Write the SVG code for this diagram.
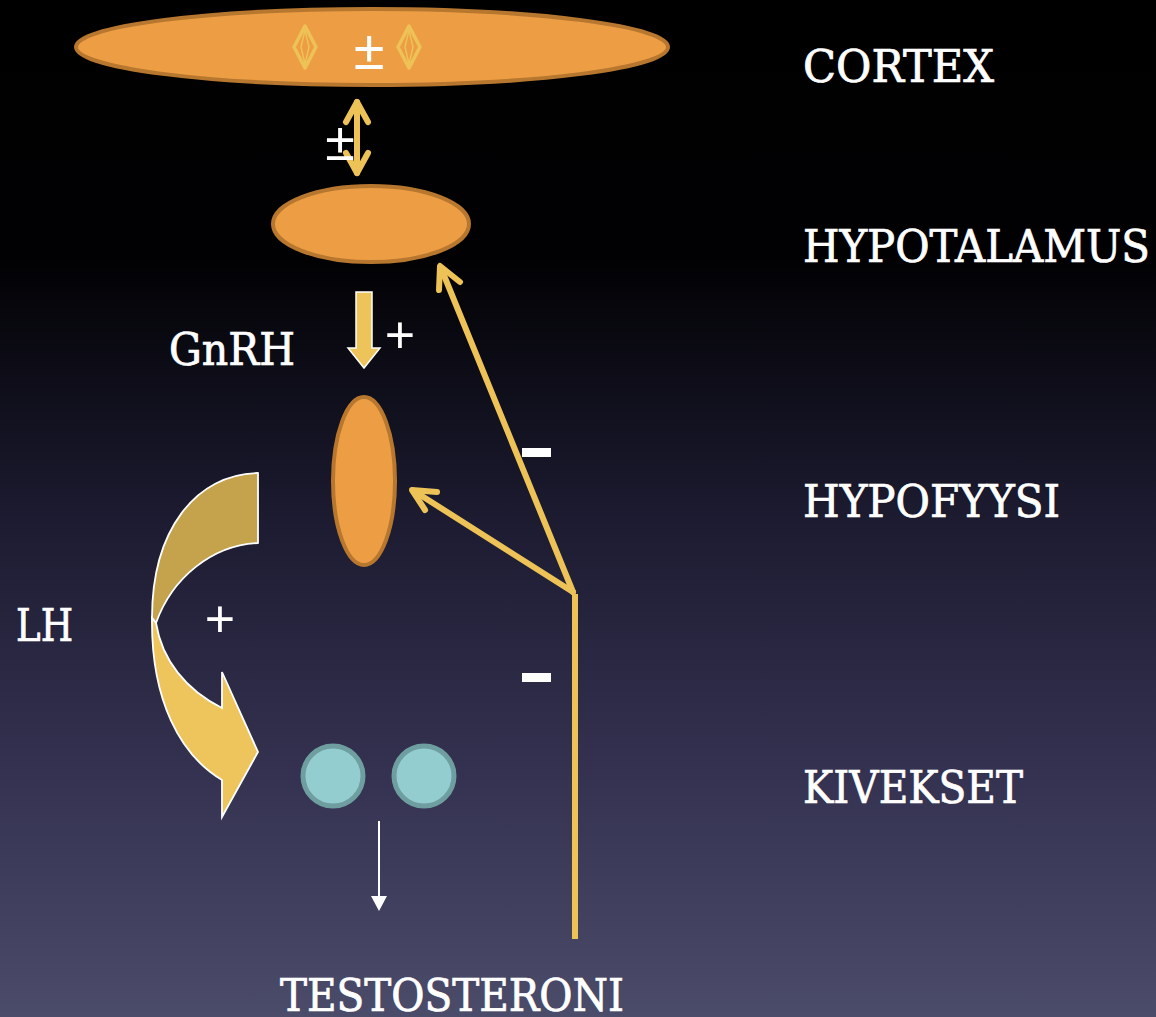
<svg xmlns="http://www.w3.org/2000/svg" width="1156" height="1017" viewBox="0 0 1156 1017">
<defs>
<linearGradient id="bg" x1="0" y1="0" x2="0" y2="1">
<stop offset="0" stop-color="#000000"/>
<stop offset="0.25" stop-color="#010103"/>
<stop offset="0.5" stop-color="#1b1a2f"/>
<stop offset="0.75" stop-color="#33314f"/>
<stop offset="1" stop-color="#4b4b6a"/>
</linearGradient>
<style>
.lbl{font-family:"DejaVu Serif Condensed","DejaVu Serif",serif;font-stretch:condensed;font-size:44px;fill:#ffffff;stroke:#ffffff;stroke-width:0.7}
.sign{font-family:"Liberation Sans",Arial,sans-serif;fill:#ffffff;text-anchor:middle}
.organ{fill:#ED9E45;stroke:#B8772F;stroke-width:4}
.testis{fill:#93CDD0;stroke:#6E9EA0;stroke-width:5}
.fb{fill:none;stroke:#EDC257;stroke-width:6;stroke-linecap:round;stroke-linejoin:round}
.minus{fill:#ffffff}
</style>
</defs>
<rect x="0" y="0" width="1156" height="1017" fill="url(#bg)"/>

<g id="cortex">
<ellipse class="organ" cx="372" cy="47" rx="296" ry="38"/>
<g fill="none" stroke="#EDC257" stroke-linejoin="round">
<path d="M305,26 L316,47 L305,68 L294,47 Z" stroke-width="3.5"/>
<path d="M305,30 L309,47 L305,64 L301,47 Z" stroke-width="1.5"/>
<path d="M409,26 L420,47 L409,68 L398,47 Z" stroke-width="3.5"/>
<path d="M409,30 L413,47 L409,64 L405,47 Z" stroke-width="1.5"/>
</g>
<text class="sign" x="369" y="69" font-size="56">±</text>
</g>

<g id="hypothalamus">
<ellipse class="organ" cx="371" cy="224" rx="98" ry="38"/>
</g>

<g id="pituitary">
<ellipse class="organ" cx="364" cy="481" rx="31" ry="84"/>
</g>

<g id="testes">
<circle class="testis" cx="333" cy="776" r="30"/>
<circle class="testis" cx="424" cy="776" r="30"/>
</g>

<g id="labels">
<text class="lbl" x="803" y="82" textLength="191" lengthAdjust="spacingAndGlyphs">CORTEX</text>
<text class="lbl" x="803" y="262" textLength="347" lengthAdjust="spacingAndGlyphs">HYPOTALAMUS</text>
<text class="lbl" x="803" y="517" textLength="257" lengthAdjust="spacingAndGlyphs">HYPOFYYSI</text>
<text class="lbl" x="803" y="803" textLength="220" lengthAdjust="spacingAndGlyphs">KIVEKSET</text>
<text class="lbl" x="169" y="365" textLength="126" lengthAdjust="spacingAndGlyphs">GnRH</text>
<text class="lbl" x="16" y="641" textLength="57" lengthAdjust="spacingAndGlyphs">LH</text>
<text class="lbl" x="280" y="1011" textLength="344" lengthAdjust="spacingAndGlyphs">TESTOSTERONI</text>
</g>

<g id="connectors">
<g class="fb">
<line x1="357" y1="102" x2="357" y2="173"/>
<polyline points="346,122 357,102 368,122"/>
<polyline points="346,153 357,173 368,153"/>
</g>
<text class="sign" x="340" y="160" font-size="54">±</text>

<path d="M356,292 L372,292 L372,348 L380,348 L364,368 L348,348 L356,348 Z" fill="#ECC45A" stroke="#ffffff" stroke-width="1.5" stroke-linejoin="miter"/>
<text class="sign" x="400" y="353" font-size="52">+</text>

<path d="M258,473 C196,474 152,530 152,618 L156,623 C172,578 212,545 258,543 Z" fill="#C5A24C" stroke="#ffffff" stroke-width="1.8" stroke-linejoin="round"/>
<path d="M152,618 C151,700 180,755 222,780 L222,817 L258,752 L222,672 L222,708 C186,690 162,660 156,623 Z" fill="#EDC55C" stroke="#ffffff" stroke-width="1.8" stroke-linejoin="miter"/>
<text class="sign" x="220" y="637" font-size="52">+</text>

<line x1="379" y1="821" x2="379" y2="897" stroke="#ffffff" stroke-width="2"/>
<path d="M371,896 L387,896 L379,911 Z" fill="#ffffff"/>

<line x1="575" y1="594" x2="575" y2="939" stroke="#EDC257" stroke-width="6"/>
<g class="fb">
<line x1="573" y1="592" x2="441" y2="268"/>
<polyline points="460,282 440,266 439,290"/>
<line x1="573" y1="592" x2="414" y2="491"/>
<polyline points="437,492 412,490 425,510"/>
</g>
<rect class="minus" x="522" y="448" width="29" height="9"/>
<rect class="minus" x="522" y="673" width="29" height="9"/>
</g>
</svg>
